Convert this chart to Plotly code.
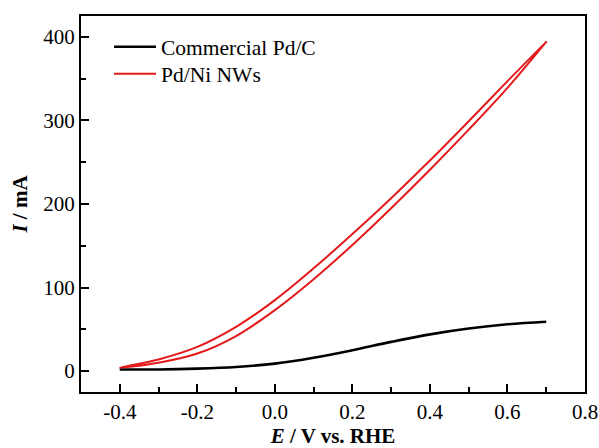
import plotly.graph_objects as go

# Potential (V vs. RHE)
E = [-0.4, -0.3, -0.2, -0.1, 0.0, 0.1, 0.2, 0.3, 0.4, 0.5, 0.6, 0.7]
# Commercial Pd/C current (mA)
I_pdc = [2, 2, 3, 5, 9, 16, 25, 35, 44, 51, 56, 59]
# Pd/Ni NWs current (mA): upper and lower branches of the scan
I_nw_upper = [4, 14, 29, 53, 85, 123, 164, 207, 252, 299, 347, 394]
I_nw_lower = [4, 10, 21, 42, 73, 110, 151, 195, 241, 289, 339, 394]

FONT = "Liberation Serif"

fig = go.Figure()
fig.add_trace(go.Scatter(x=E, y=I_pdc, mode="lines", name="Commercial Pd/C",
                         line=dict(color="black", width=2.6, shape="spline"),
                         legend="legend"))
fig.add_trace(go.Scatter(x=E + E[::-1], y=I_nw_upper + I_nw_lower[::-1], mode="lines",
                         name="Pd/Ni NWs",
                         line=dict(color="#e31a1c", width=2, shape="spline"),
                         legend="legend2"))

axis_common = dict(showline=True, linecolor="black", linewidth=2, mirror=True,
                   ticks="inside", ticklen=8, tickwidth=2, tickcolor="black",
                   showgrid=False, zeroline=False, automargin=False,
                   tickfont=dict(family=FONT, size=21, color="black"))

fig.update_xaxes(range=[-0.5, 0.8], tickvals=[-0.4, -0.2, 0.0, 0.2, 0.4, 0.6, 0.8],
                 ticktext=["-0.4", "-0.2", "0.0", "0.2", "0.4", "0.6", "0.8"],
                 minor=dict(dtick=0.1, tick0=0, ticks="inside", ticklen=5, tickwidth=2, tickcolor="black"),
                 title=dict(text="<b><i>E</i> / V vs. RHE</b>", font=dict(family=FONT, size=21, color="black"),
                            standoff=6),
                 **axis_common)
fig.update_yaxes(range=[-25, 425], tickvals=[0, 100, 200, 300, 400],
                 minor=dict(dtick=50, tick0=0, ticks="inside", ticklen=5, tickwidth=2, tickcolor="black"),
                 title=dict(text="<b><i>I</i> / mA</b>", font=dict(family=FONT, size=21, color="black"),
                            standoff=10),
                 **axis_common)

legend_common = dict(xanchor="left", yanchor="top",
                     font=dict(family=FONT, size=21.5, color="black"),
                     bgcolor="rgba(0,0,0,0)", itemwidth=42)

fig.update_layout(
    width=599, height=448,
    margin=dict(l=81, r=14, t=16, b=56),
    paper_bgcolor="white", plot_bgcolor="white",
    showlegend=True,
    legend=dict(x=0.0556, y=0.9726, **legend_common),
    legend2=dict(x=0.0556, y=0.9008, **legend_common),
)

fig.write_html("out.html", config={"displayModeBar": False},
               post_script="document.body.style.margin='0';document.body.style.padding='0';")
